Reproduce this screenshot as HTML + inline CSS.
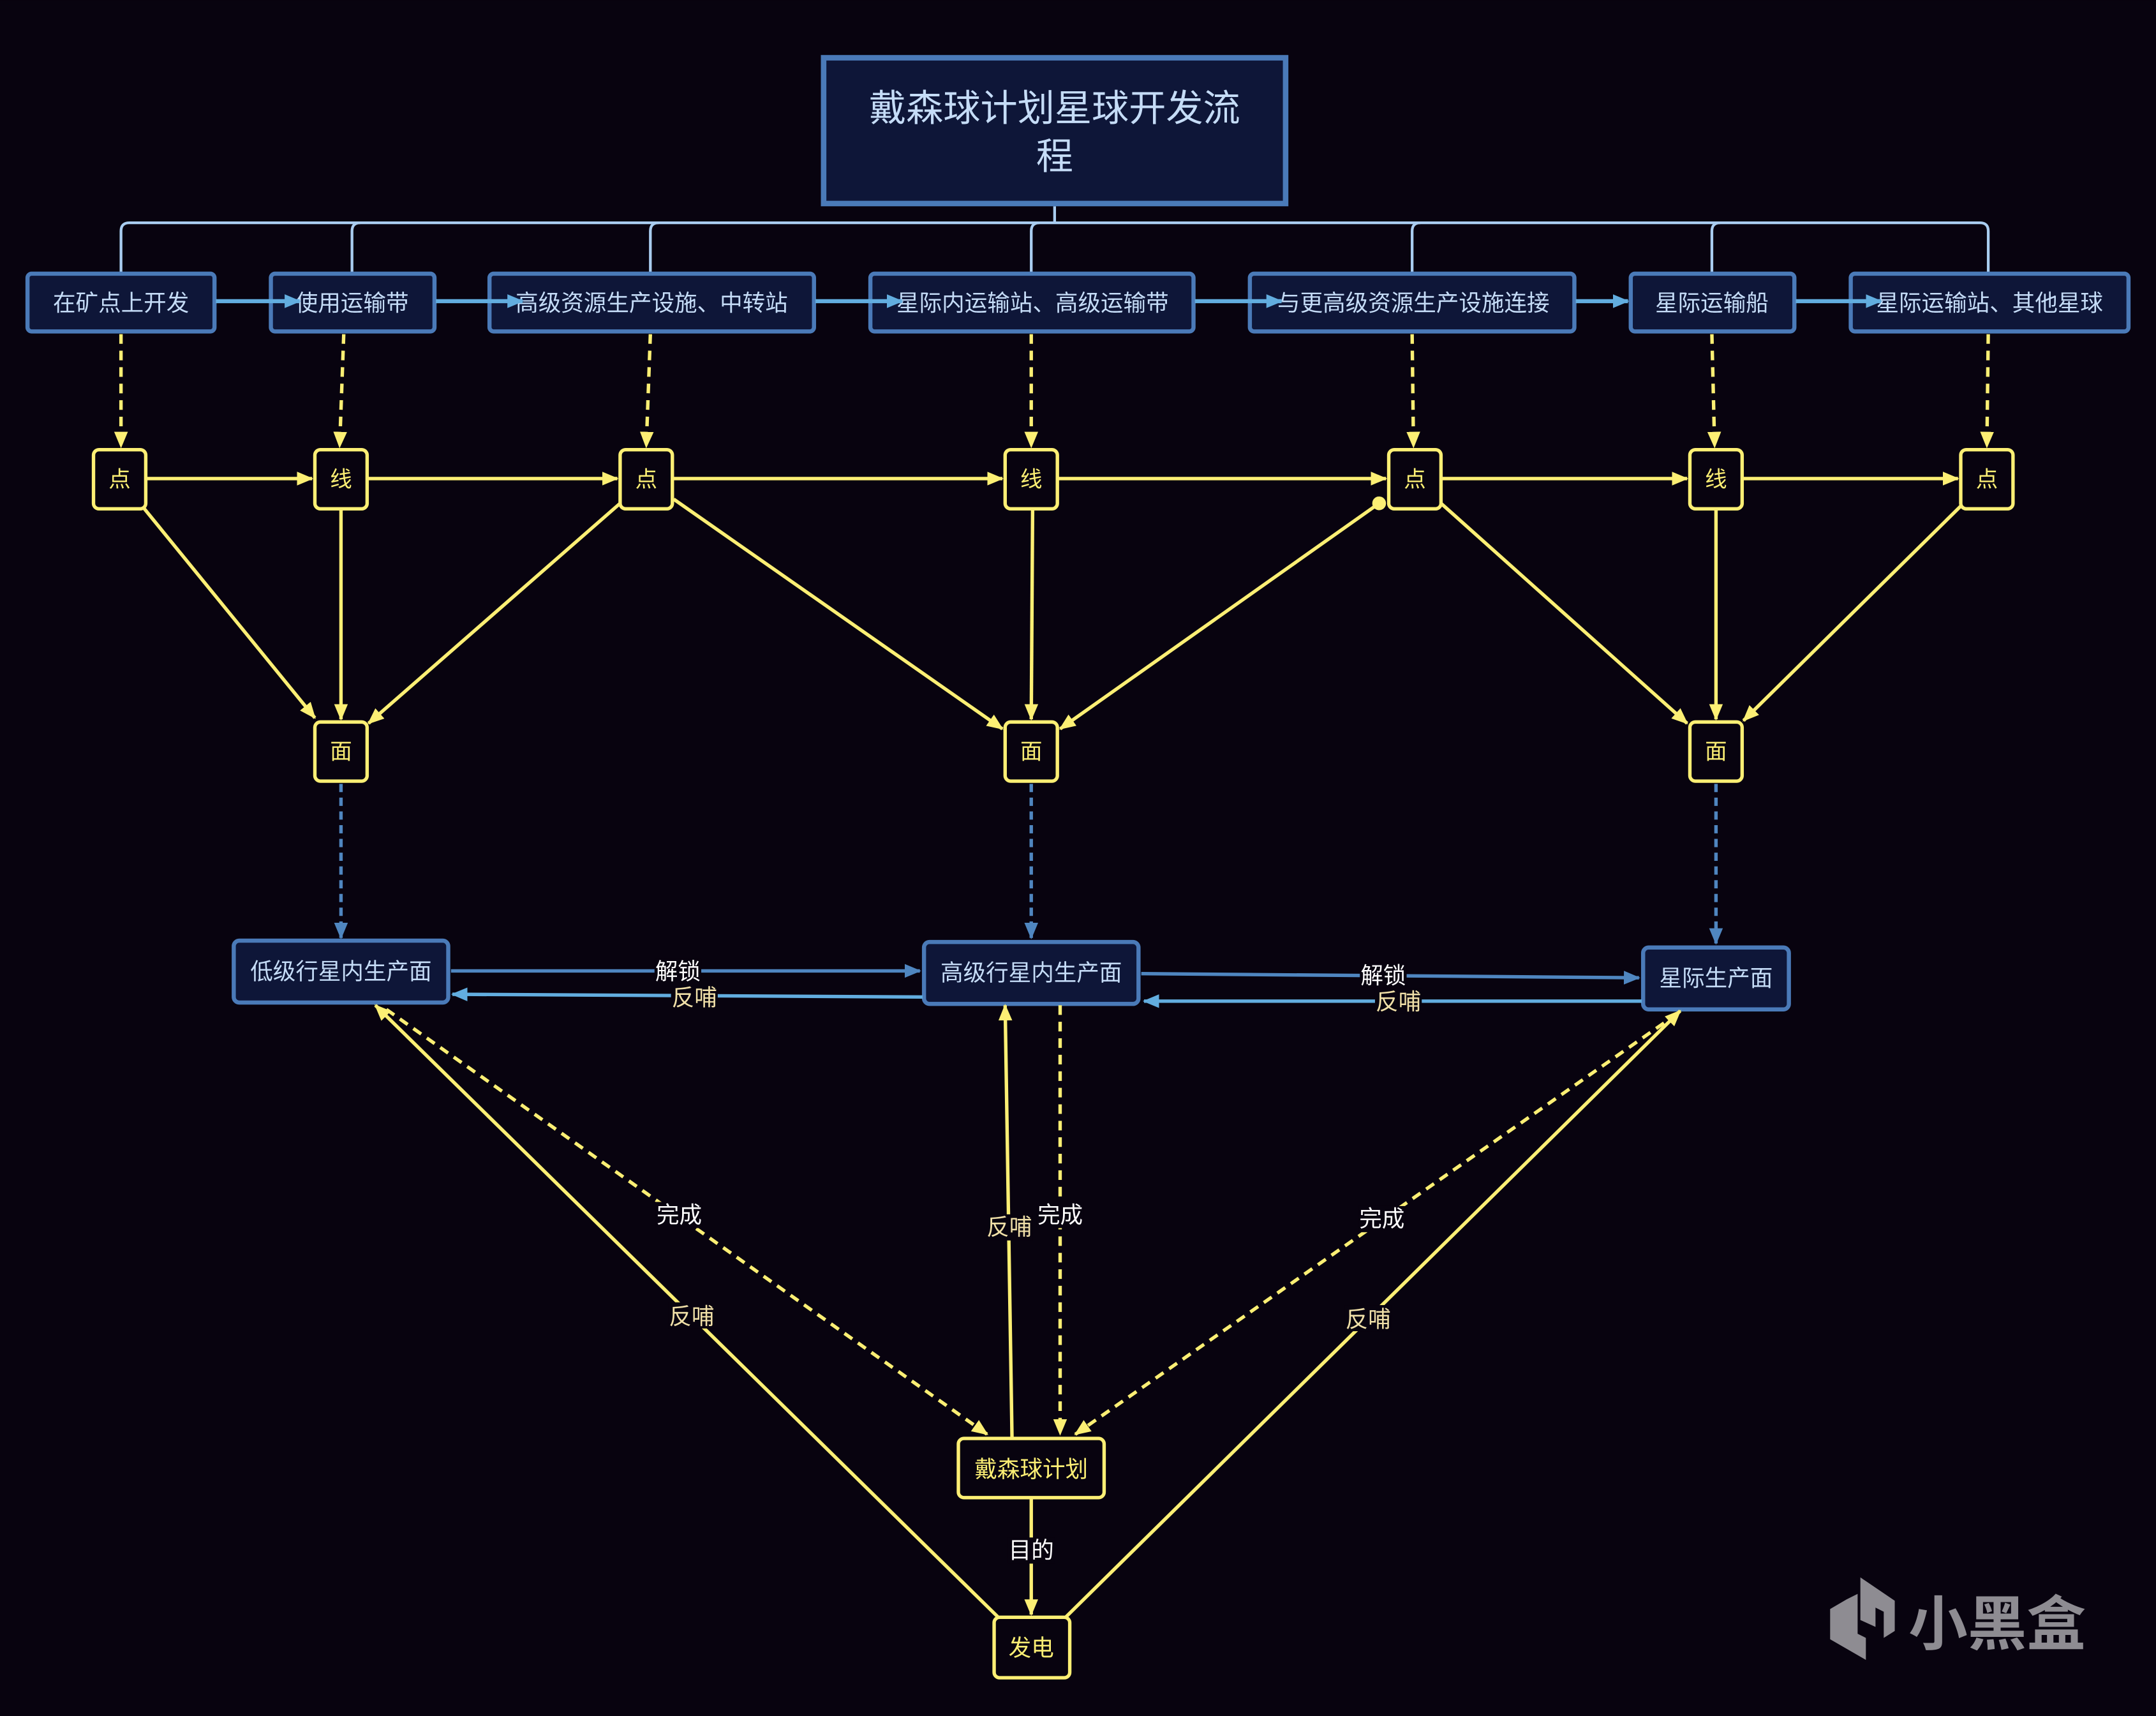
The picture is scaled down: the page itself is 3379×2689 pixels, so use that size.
<!DOCTYPE html>
<html><head><meta charset="utf-8"><style>
html,body{margin:0;padding:0;background:#08030f;}
svg{display:block;}
text{font-family:"Liberation Sans","Noto Sans CJK SC",sans-serif;}
</style></head><body>
<svg width="3379" height="2689" viewBox="0 0 1568 1247.8" xmlns="http://www.w3.org/2000/svg">
<defs>
<marker id="ay" markerUnits="userSpaceOnUse" markerWidth="12" markerHeight="12" refX="11" refY="6" orient="auto"><path d="M0,1 L12,6 L0,11 z" fill="#fcef74"/></marker>
<marker id="ab" markerUnits="userSpaceOnUse" markerWidth="12" markerHeight="12" refX="11" refY="6" orient="auto"><path d="M0,1 L12,6 L0,11 z" fill="#4f86c0"/></marker>
<marker id="ab2" markerUnits="userSpaceOnUse" markerWidth="12" markerHeight="12" refX="11" refY="6" orient="auto"><path d="M0,1 L12,6 L0,11 z" fill="#62addf"/></marker>
</defs>
<rect width="1568" height="1248" fill="#08030f"/>

<!-- bus -->
<g fill="none" stroke="#a9cdf0" stroke-width="2">
<path d="M767,150 V162"/>
<path d="M88,198 V168 Q88,162 94,162 H1440 Q1446,162 1446,168 V198"/>
<path d="M256,198 V168 Q256,162 262,162"/>
<path d="M473,198 V168 Q473,162 479,162"/>
<path d="M750,198 V168 Q750,162 756,162"/>
<path d="M1027,198 V168 Q1027,162 1033,162"/>
<path d="M1245,198 V168 Q1245,162 1251,162"/>
</g>

<!-- title -->
<rect x="599" y="42" width="336" height="106" fill="#0e1638" stroke="#4a7ab8" stroke-width="4"/>
<text x="767" y="88" font-size="27" fill="#c5dcf7" text-anchor="middle">戴森球计划星球开发流</text>
<text x="767" y="123" font-size="27" fill="#c5dcf7" text-anchor="middle">程</text>

<!-- top boxes -->
<g fill="#0e1638" stroke="#4a7ab8" stroke-width="3">
<rect x="20" y="199" width="136" height="42" rx="3"/>
<rect x="197" y="199" width="119" height="42" rx="3"/>
<rect x="356" y="199" width="236" height="42" rx="3"/>
<rect x="633" y="199" width="235" height="42" rx="3"/>
<rect x="909" y="199" width="236" height="42" rx="3"/>
<rect x="1186" y="199" width="119" height="42" rx="3"/>
<rect x="1346" y="199" width="202" height="42" rx="3"/>
</g>
<g font-size="16.5" fill="#c5dcf7" text-anchor="middle">
<text x="88" y="226">在矿点上开发</text>
<text x="256" y="226">使用运输带</text>
<text x="474" y="226">高级资源生产设施、中转站</text>
<text x="751" y="226">星际内运输站、高级运输带</text>
<text x="1028" y="226">与更高级资源生产设施连接</text>
<text x="1245" y="226">星际运输船</text>
<text x="1447" y="226">星际运输站、其他星球</text>
</g>
<g stroke="#62addf" stroke-width="3" marker-end="url(#ab2)">
<line x1="157" y1="219" x2="218" y2="219"/>
<line x1="317" y1="219" x2="380" y2="219"/>
<line x1="593" y1="219" x2="656" y2="219"/>
<line x1="869" y1="219" x2="932" y2="219"/>
<line x1="1146" y1="219" x2="1184" y2="219"/>
<line x1="1306" y1="219" x2="1368" y2="219"/>
</g>

<!-- dashed yellow down -->
<g stroke="#fcef74" stroke-width="2.5" stroke-dasharray="7,5" marker-end="url(#ay)">
<line x1="88" y1="243" x2="88" y2="325"/>
<line x1="250" y1="243" x2="247" y2="325"/>
<line x1="473" y1="243" x2="470" y2="325"/>
<line x1="750" y1="243" x2="750" y2="325"/>
<line x1="1027" y1="243" x2="1028" y2="325"/>
<line x1="1245" y1="243" x2="1247" y2="325"/>
<line x1="1446" y1="243" x2="1445" y2="325"/>
</g>

<!-- yellow nodes -->
<g fill="#08030f" stroke="#fcef74" stroke-width="2.5">
<rect x="68" y="327" width="38" height="43" rx="4"/>
<rect x="229" y="327" width="38" height="43" rx="4"/>
<rect x="451" y="327" width="38" height="43" rx="4"/>
<rect x="731" y="327" width="38" height="43" rx="4"/>
<rect x="1010" y="327" width="38" height="43" rx="4"/>
<rect x="1229" y="327" width="38" height="43" rx="4"/>
<rect x="1426" y="327" width="38" height="43" rx="4"/>
<rect x="229" y="525" width="38" height="43" rx="4"/>
<rect x="731" y="525" width="38" height="43" rx="4"/>
<rect x="1229" y="525" width="38" height="43" rx="4"/>
</g>
<g font-size="16" fill="#fcef74" text-anchor="middle">
<text x="87" y="354">点</text><text x="248" y="354">线</text><text x="470" y="354">点</text>
<text x="750" y="354">线</text><text x="1029" y="354">点</text><text x="1248" y="354">线</text>
<text x="1445" y="354">点</text>
<text x="248" y="552">面</text><text x="750" y="552">面</text><text x="1248" y="552">面</text>
</g>

<g stroke="#fcef74" stroke-width="2.5" marker-end="url(#ay)" fill="none">
<line x1="107" y1="348" x2="227" y2="348"/>
<line x1="268" y1="348" x2="449" y2="348"/>
<line x1="490" y1="348" x2="729" y2="348"/>
<line x1="770" y1="348" x2="1008" y2="348"/>
<line x1="1049" y1="348" x2="1227" y2="348"/>
<line x1="1268" y1="348" x2="1424" y2="348"/>
<line x1="105" y1="370" x2="229" y2="522"/>
<line x1="248" y1="371" x2="248" y2="523"/>
<line x1="451" y1="366" x2="268" y2="526"/>
<line x1="490" y1="363" x2="729" y2="530"/>
<line x1="751" y1="371" x2="750" y2="523"/>
<line x1="1003" y1="366" x2="771" y2="530"/>
<line x1="1048" y1="366" x2="1227" y2="526"/>
<line x1="1248" y1="371" x2="1248" y2="523"/>
<line x1="1426" y1="368" x2="1268" y2="524"/>
</g>
<circle cx="1003" cy="366" r="5" fill="#fcef74"/>

<!-- dashed blue -->
<g stroke="#4f86c0" stroke-width="2.5" stroke-dasharray="6,4" marker-end="url(#ab)">
<line x1="248" y1="570" x2="248" y2="682"/>
<line x1="750" y1="570" x2="750" y2="682"/>
<line x1="1248" y1="570" x2="1248" y2="686"/>
</g>

<!-- blue level boxes -->
<g fill="#0e1638" stroke="#4a7ab8" stroke-width="3">
<rect x="170" y="684" width="156" height="45" rx="4"/>
<rect x="672" y="685" width="156" height="45" rx="4"/>
<rect x="1195" y="689" width="106" height="45" rx="4"/>
</g>
<g font-size="16.5" fill="#c5dcf7" text-anchor="middle">
<text x="248" y="712">低级行星内生产面</text>
<text x="750" y="713">高级行星内生产面</text>
<text x="1248" y="717">星际生产面</text>
</g>
<line x1="328" y1="706" x2="669" y2="706" stroke="#4f86c0" stroke-width="2.5" marker-end="url(#ab)"/>
<line x1="671" y1="725" x2="329" y2="723" stroke="#62addf" stroke-width="2.5" marker-end="url(#ab2)"/>
<line x1="830" y1="708" x2="1192" y2="711" stroke="#4f86c0" stroke-width="2.5" marker-end="url(#ab)"/>
<line x1="1194" y1="728" x2="832" y2="728" stroke="#62addf" stroke-width="2.5" marker-end="url(#ab2)"/>

<!-- bottom connectors -->
<g stroke="#fcef74" stroke-width="2.5" fill="none" marker-end="url(#ay)">
<line x1="281" y1="734" x2="718" y2="1043" stroke-dasharray="7,5"/>
<line x1="726" y1="1176" x2="273" y2="731"/>
<line x1="736" y1="1045" x2="731" y2="731"/>
<line x1="771" y1="731" x2="771" y2="1043" stroke-dasharray="7,5"/>
<line x1="1220" y1="737" x2="782" y2="1043" stroke-dasharray="7,5"/>
<line x1="775" y1="1176" x2="1222" y2="735"/>
<line x1="750" y1="1089" x2="750" y2="1174"/>
</g>

<g fill="#08030f" stroke="#fcef74" stroke-width="2.5">
<rect x="697" y="1046" width="106" height="43" rx="4"/>
<rect x="723" y="1176" width="55" height="44" rx="4"/>
</g>
<g font-size="16.5" fill="#fcef74" text-anchor="middle">
<text x="750" y="1074">戴森球计划</text>
<text x="750" y="1204">发电</text>
</g>

<!-- labels -->
<g font-size="16.5" text-anchor="middle">
<g fill="#08030f">
<rect x="476" y="697" width="34" height="18"/><rect x="488" y="715" width="34" height="18"/>
<rect x="989" y="700" width="34" height="18"/><rect x="1000" y="719" width="34" height="18"/>
<rect x="477" y="874" width="34" height="19"/><rect x="486" y="947" width="34" height="19"/>
<rect x="717" y="883" width="34" height="19"/><rect x="754" y="874" width="34" height="19"/>
<rect x="988" y="877" width="34" height="19"/><rect x="978" y="949" width="34" height="19"/>
<rect x="733" y="1118" width="34" height="19"/>
</g>
<text x="493" y="712" fill="#ffffff">解锁</text>
<text x="505" y="731" fill="#f0e0a8">反哺</text>
<text x="1006" y="715" fill="#ffffff">解锁</text>
<text x="1017" y="734" fill="#f0e0a8">反哺</text>
<text x="494" y="889" fill="#ffffff">完成</text>
<text x="503" y="963" fill="#f0e0a8">反哺</text>
<text x="734" y="898" fill="#f0e0a8">反哺</text>
<text x="771" y="889" fill="#ffffff">完成</text>
<text x="1005" y="892" fill="#ffffff">完成</text>
<text x="995" y="965" fill="#f0e0a8">反哺</text>
<text x="750" y="1133" fill="#ffffff">目的</text>
</g>

<!-- watermark -->
<g fill="#8e8c92">
<path d="M1343,1163 L1351,1159 L1351,1188 L1357,1191 L1357,1207 L1331,1192 L1331,1170 Z"/>
<path d="M1353,1147 L1378,1164 L1378,1186 L1370,1191 L1370,1172 L1364,1169 L1364,1183 L1353,1178 Z"/>
<text x="1388" y="1196" font-size="43" font-weight="bold" font-family="'Noto Sans CJK SC',sans-serif">小黑盒</text>
</g>
</svg>
</body></html>
